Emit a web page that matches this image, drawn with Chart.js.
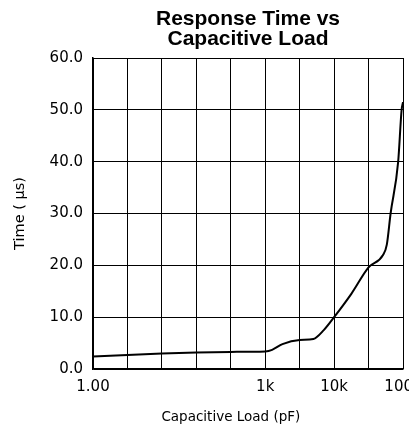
<!DOCTYPE html>
<html lang="en">
<head>
    <meta charset="UTF-8">
    <title>Response Time vs Capacitive Load</title>
    <script src="https://cdn.jsdelivr.net/npm/chart.js"></script>
    <style>
        body {
            margin: 0;
            padding: 0;
            background: #fff;
            overflow: hidden;
        }

        .chart-wrapper {
            width: 409px;
            height: 434px;
        }
    </style>
</head>
<body>
    <div class="chart-wrapper">
        <canvas id="responseChart"></canvas>
    </div>

    <script>
        // x is the position on the grid (one unit per vertical grid column)
        const gridPos = [0, 1, 2, 3, 4, 5, 5.2, 5.5, 6, 6.4, 6.7, 7, 7.5, 8, 8.42, 8.53, 8.64, 8.86, 8.96, 9];
        const timeUs = [2.4, 2.7, 3.0, 3.2, 3.3, 3.4, 3.7, 4.8, 5.6, 5.8, 7.5, 10.0, 14.5, 19.6, 22.0, 24.0, 30.0, 40.0, 50.0, 51.5];

        const xTickLabels = { 0: '1.00', 5: '1k', 7: '10k', 9: '100k' };
        const yTicks = [0, 10, 20, 30, 40, 50, 60];

        const tickFont = { family: 'DejaVu Sans', size: 15 };

        // center the title over the plot area instead of the whole canvas
        const titleOverPlot = {
            id: 'titleOverPlot',
            afterLayout(chart) {
                if (chart.titleBlock) {
                    chart.titleBlock.left = chart.chartArea.left;
                    chart.titleBlock.right = chart.chartArea.right;
                }
            }
        };

        const canvas = document.getElementById('responseChart');

        new Chart(canvas, {
            type: 'line',
            data: {
                datasets: [{
                    label: 'Response Time',
                    data: gridPos.map((x, i) => ({ x: x, y: timeUs[i] })),
                    borderColor: '#000',
                    borderWidth: 2,
                    pointRadius: 0,
                    fill: false,
                    cubicInterpolationMode: 'monotone'
                }]
            },
            options: {
                responsive: true,
                maintainAspectRatio: false,
                animation: false,
                layout: {
                    padding: { left: 0, right: 6, top: 0, bottom: 0 }
                },
                plugins: {
                    legend: { display: false },
                    tooltip: { enabled: false },
                    title: {
                        display: true,
                        text: ['Response Time vs', 'Capacitive Load'],
                        color: '#000',
                        font: { family: 'Liberation Sans', size: 21, weight: 'bold', lineHeight: '20px' },
                        padding: { top: 9, bottom: 9 }
                    }
                },
                scales: {
                    x: {
                        type: 'linear',
                        min: 0,
                        max: 9,
                        afterBuildTicks: (scale) => {
                            scale.ticks = [0, 1, 2, 3, 4, 5, 6, 7, 8, 9].map(v => ({ value: v }));
                        },
                        afterFit: (scale) => {
                            scale.height = 65;
                            scale.paddingLeft = 0;
                            scale.paddingRight = 0;
                        },
                        ticks: {
                            color: '#000',
                            font: tickFont,
                            padding: 9,
                            maxRotation: 0,
                            autoSkip: false,
                            callback: (v) => xTickLabels[v] || ''
                        },
                        grid: { color: '#000', lineWidth: 1, drawTicks: false },
                        border: { color: '#000', width: 1.5 },
                        title: {
                            display: true,
                            // trailing spaces move the centred label a little left, as in the original
                            text: 'Capacitive Load (pF)        ',
                            color: '#000',
                            font: { family: 'DejaVu Sans', size: 13.5 },
                            padding: { top: 0, bottom: 8 }
                        }
                    },
                    y: {
                        min: 0,
                        max: 60,
                        afterBuildTicks: (scale) => {
                            scale.ticks = yTicks.map(v => ({ value: v }));
                        },
                        afterFit: (scale) => {
                            scale.width = 93;
                            scale.paddingTop = 0;
                            scale.paddingBottom = 0;
                        },
                        ticks: {
                            color: '#000',
                            font: tickFont,
                            padding: 10,
                            callback: (v) => v.toFixed(1)
                        },
                        grid: { color: '#000', lineWidth: 1, drawTicks: false },
                        border: { color: '#000', width: 1.5 },
                        title: {
                            display: true,
                            text: 'Time ( μs)',
                            color: '#000',
                            font: { family: 'DejaVu Sans', size: 14.5 },
                            padding: { top: 12, bottom: 0 }
                        }
                    }
                }
            },
            plugins: [titleOverPlot]
        });
    </script>
</body>
</html>
